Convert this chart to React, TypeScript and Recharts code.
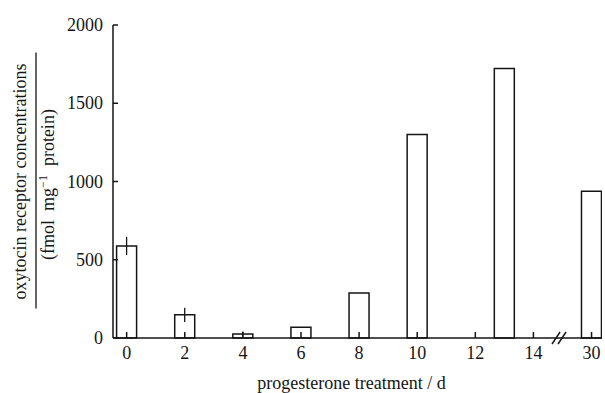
import React from "react";
import {
  ComposedChart,
  Bar,
  XAxis,
  YAxis,
  ErrorBar,
  ReferenceDot,
} from "recharts";

// days of progesterone treatment, axis is broken after day 14
const days = [0, 2, 4, 6, 8, 10, 13, 30];
const receptor = [588, 148, 25, 68, 288, 1300, 1722, 938];
const sem = [58, 45, 16, null, null, null, null, null];

const xTicks = [0, 2, 4, 6, 8, 10, 12, 14, 16];
const xTickLabels = ["0", "2", "4", "6", "8", "10", "12", "14", "30"];
const yTicks = [0, 500, 1000, 1500, 2000];

// everything past the break sits in the slot after 14
const breakAfter = 14;
const slotAfterBreak = 16;
const toAxis = (d: number) => (d > breakAfter ? slotAfterBreak : d);

const data = days.map((d, i) => ({
  pos: toAxis(d),
  value: receptor[i],
  err: sem[i],
}));

const INK = "#151515";
const FONT =
  '"Times New Roman", Times, "Liberation Serif", Tinos, "DejaVu Serif", "Noto Serif", serif';
const txt = { fontFamily: FONT, fontSize: 18, fill: INK };

function XTick(props: any) {
  const { x, y, payload } = props;
  const idx = xTicks.indexOf(payload.value);
  return (
    <g>
      <line x1={x} x2={x} y1={y} y2={y - 6} stroke={INK} strokeWidth={1.5} />
      <text x={x} y={y + 21} textAnchor="middle" style={txt}>
        {idx >= 0 ? xTickLabels[idx] : payload.value}
      </text>
    </g>
  );
}

function YTick(props: any) {
  const { x, y, payload } = props;
  return (
    <g>
      <line x1={x} x2={x + 5} y1={y} y2={y} stroke={INK} strokeWidth={1.5} />
      <text x={x - 10} y={y + 6} textAnchor="end" style={txt}>
        {payload.value}
      </text>
    </g>
  );
}

function XLabel(props: any) {
  const vb = props.viewBox || {};
  const cx = vb.x + vb.width / 2 - 6;
  return (
    <text x={cx} y={vb.y + 51} textAnchor="middle" style={txt}>
      progesterone treatment / d
    </text>
  );
}

function YLabel(props: any) {
  const vb = props.viewBox || {};
  const cy = vb.y + vb.height / 2;
  const ax = vb.x + vb.width;
  const x1 = ax - 87;
  const x2 = ax - 59;
  const xl = ax - 77;
  return (
    <g>
      <text x={x1} y={cy} textAnchor="middle" transform={`rotate(-90, ${x1}, ${cy})`} style={txt}>
        oxytocin receptor concentrations
      </text>
      <line x1={xl} x2={xl} y1={cy - 129} y2={cy + 127} stroke={INK} strokeWidth={1.3} />
      <text x={x2} y={cy + 3} textAnchor="middle" transform={`rotate(-90, ${x2}, ${cy + 3})`} style={txt}>
        {"(fmol\u00a0\u00a0mg"}
        <tspan fontSize={12} dy={-7}>−1</tspan>
        <tspan dy={7}>{"\u00a0\u00a0protein)"}</tspan>
      </text>
    </g>
  );
}

function BreakMark(props: any) {
  const { cx, cy } = props;
  return (
    <g>
      <line x1={cx - 9} y1={cy + 6} x2={cx - 1} y2={cy - 6} stroke={INK} strokeWidth={1.5} />
      <line x1={cx - 3} y1={cy + 6} x2={cx + 5} y2={cy - 6} stroke={INK} strokeWidth={1.5} />
    </g>
  );
}

export default function App() {
  return (
    <div style={{ position: "absolute", left: 0, top: 0, background: "#fff" }}>
      <ComposedChart
        width={605}
        height={393}
        data={data}
        margin={{ top: 25, right: 3, bottom: 54, left: 112 }}
      >
        <XAxis
          dataKey="pos"
          type="number"
          domain={[-0.47, 16.36]}
          ticks={xTicks}
          allowDataOverflow
          height={1}
          tickSize={0}
          tickMargin={0}
          tick={<XTick />}
          axisLine={{ stroke: INK, strokeWidth: 1.5 }}
          tickLine={false}
          label={<XLabel />}
        />
        <YAxis
          type="number"
          domain={[0, 2000]}
          ticks={yTicks}
          width={1}
          tickSize={0}
          tickMargin={0}
          tick={<YTick />}
          axisLine={{ stroke: INK, strokeWidth: 1.5 }}
          tickLine={false}
          label={<YLabel />}
        />
        <Bar
          dataKey="value"
          barSize={20}
          fill="none"
          stroke={INK}
          strokeWidth={1.5}
          isAnimationActive={false}
        >
          <ErrorBar dataKey="err" width={0} stroke={INK} strokeWidth={1.3} direction="y" />
        </Bar>
        <ReferenceDot x={14.95} y={0} r={0} shape={<BreakMark />} />
      </ComposedChart>
    </div>
  );
}
